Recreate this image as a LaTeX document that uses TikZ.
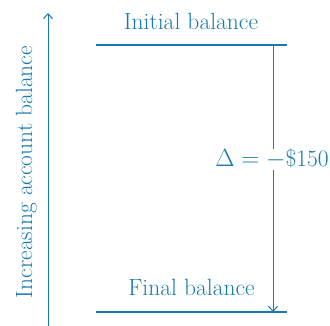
\documentclass[tikz,border=0pt]{standalone}
\usepackage{fontspec}
\setmainfont{Latin Modern Roman}
\usetikzlibrary{arrows.meta}
\definecolor{bl}{RGB}{24,122,172}
\begin{document}
\begin{tikzpicture}[x=1pt,y=1pt,
  lvl/.style={draw=bl,line width=2.4pt},
  thinarrow/.style={draw=bl,line width=1pt,-{Straight Barb[length=5pt,width=9pt]}},
  lab/.style={text=bl,font=\fontsize{23.5}{28}\selectfont,inner sep=0pt,anchor=base}]
\useasboundingbox (0,0) rectangle (330,326);
\coordinate (tl) at (96,281);
\coordinate (tr) at (287,281);
\coordinate (bl0) at (96,14);
\coordinate (br) at (287,14);
\coordinate (as) at (273,281);
\coordinate (ae) at (273,14);
\coordinate (ls) at (48,0);
\coordinate (le) at (48,313);
\draw[lvl] (tl) -- (tr);
\draw[lvl] (bl0) -- (br);
\draw[thinarrow] (as) -- (ae);
\draw[thinarrow] (ls) -- (le);
\node[lab] (init) at (191,296) {Initial balance};
\node[lab] (fin) at (191.5,30) {Final balance};
\node[lab,rotate=90] (ax) at (32,154) {Increasing account balance};
\node[lab,fill=white,inner sep=0.5pt] (delta) at (272,159) {$\Delta = -$\$150};
\end{tikzpicture}
\end{document}
